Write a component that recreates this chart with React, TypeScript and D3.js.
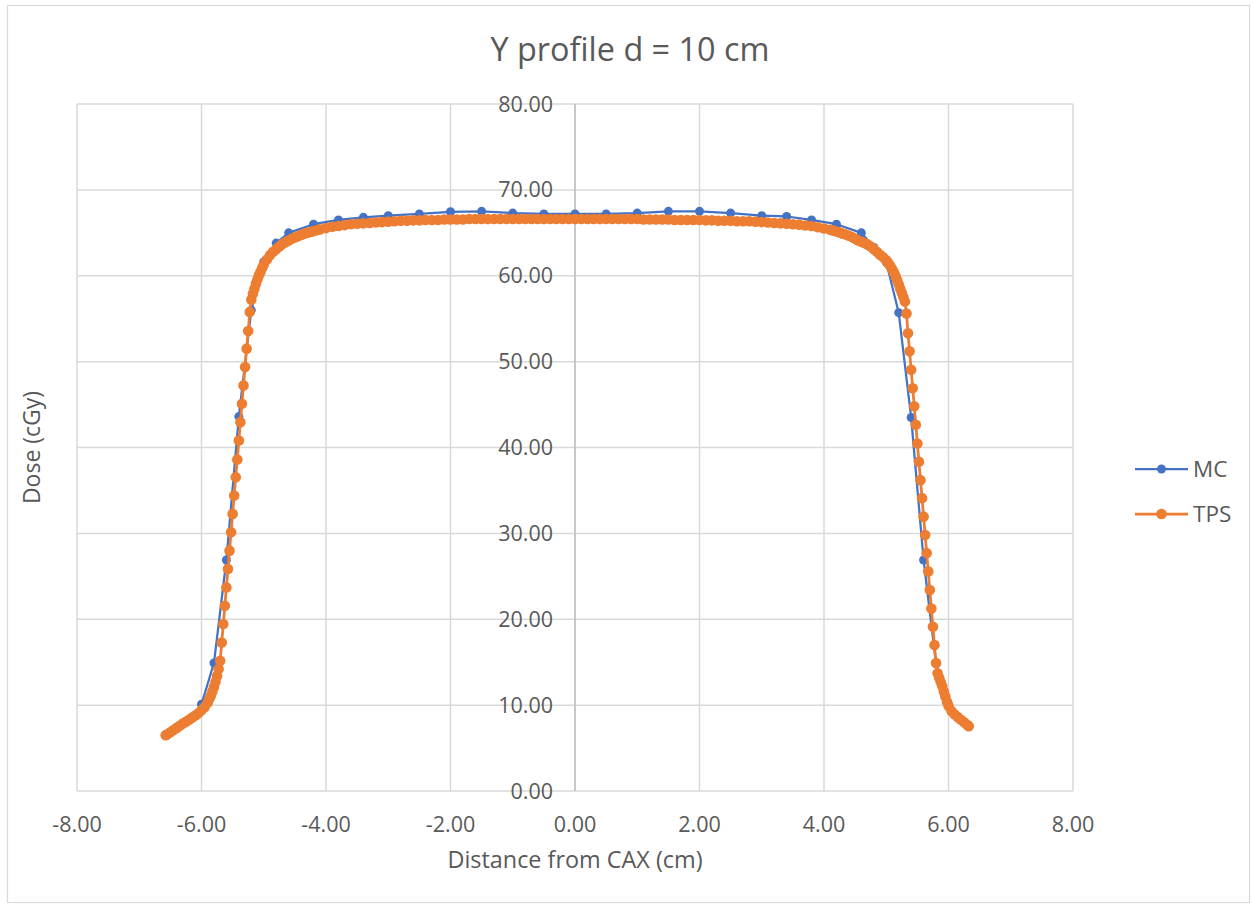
import React from 'react';
import * as d3 from 'd3';

// MC (Monte Carlo) profile points
const mcX = [
  -6.0, -5.8, -5.6, -5.4, -5.2, -5.0, -4.8, -4.6, -4.2, -3.8, -3.4, -3.0,
  -2.5, -2.0, -1.5, -1.0, -0.5, 0, 0.5, 1.0, 1.5, 2.0, 2.5, 3.0, 3.4, 3.8,
  4.2, 4.6, 4.8, 5.0, 5.2, 5.4, 5.6, 5.8, 6.0,
];
const mcDose = [
  10.1, 14.9, 26.9, 43.6, 56.0, 61.6, 63.8, 65.0, 66.0, 66.5, 66.8, 67.0,
  67.2, 67.45, 67.5, 67.3, 67.2, 67.2, 67.2, 67.3, 67.5, 67.5, 67.3, 67.0,
  66.9, 66.5, 66.0, 65.0, 63.3, 61.6, 55.7, 43.5, 26.9, 14.8, 10.05,
];

// TPS profile, by region: [x (cm), dose (cGy)]
const tpsLeftTail = [
  [-6.575, 6.5], [-6.55, 6.6], [-6.5, 6.85], [-6.45, 7.1], [-6.4, 7.35],
  [-6.35, 7.6], [-6.3, 7.85], [-6.25, 8.05], [-6.2, 8.3], [-6.15, 8.55],
  [-6.1, 8.8], [-6.05, 9.05], [-6.0, 9.4], [-5.95, 9.75], [-5.9, 10.3],
  [-5.875, 10.7], [-5.85, 11.1], [-5.825, 11.6], [-5.8, 12.1],
  [-5.775, 12.7], [-5.75, 13.4], [-5.725, 14.2],
];
const tpsLeftPenumbra = [
  [-5.7, 15.16], [-5.675, 17.29], [-5.65, 19.44], [-5.625, 21.57],
  [-5.6, 23.71], [-5.575, 25.85], [-5.55, 27.99], [-5.525, 30.12],
  [-5.5, 32.27], [-5.475, 34.4], [-5.45, 36.54], [-5.425, 38.6],
  [-5.4, 40.82], [-5.375, 42.95], [-5.35, 45.1], [-5.325, 47.23],
  [-5.3, 49.36], [-5.275, 51.51], [-5.25, 53.56], [-5.225, 55.78],
];
const tpsLeftShoulder = [
  [-5.2, 57.2], [-5.175, 57.9], [-5.15, 58.5], [-5.125, 59.1], [-5.1, 59.6],
  [-5.075, 60.1], [-5.05, 60.5], [-5.025, 60.9], [-5.0, 61.3], [-4.95, 61.9],
  [-4.9, 62.4], [-4.85, 62.8], [-4.8, 63.1], [-4.75, 63.4], [-4.7, 63.7],
  [-4.65, 63.9],
];
const tpsPlateau = [
  [-4.6, 64.1], [-4.55, 64.3], [-4.5, 64.45], [-4.45, 64.6], [-4.4, 64.75],
  [-4.35, 64.9], [-4.3, 65.0], [-4.25, 65.1], [-4.2, 65.2], [-4.15, 65.3],
  [-4.1, 65.4], [-4.0, 65.55], [-3.9, 65.7], [-3.8, 65.8], [-3.7, 65.9],
  [-3.6, 66.0], [-3.5, 66.05], [-3.4, 66.1], [-3.3, 66.15], [-3.2, 66.2],
  [-3.1, 66.25], [-3.0, 66.3], [-2.9, 66.35], [-2.8, 66.4], [-2.7, 66.4],
  [-2.6, 66.45], [-2.5, 66.45], [-2.4, 66.5], [-2.3, 66.5], [-2.2, 66.5],
  [-2.1, 66.55], [-2.0, 66.55], [-1.9, 66.55], [-1.8, 66.55], [-1.7, 66.6],
  [-1.6, 66.6], [-1.5, 66.6], [-1.4, 66.6], [-1.3, 66.6], [-1.2, 66.6],
  [-1.1, 66.6], [-1.0, 66.6], [-0.9, 66.6], [-0.8, 66.6], [-0.7, 66.6],
  [-0.6, 66.6], [-0.5, 66.6], [-0.4, 66.6], [-0.3, 66.6], [-0.2, 66.6],
  [-0.1, 66.6], [0, 66.6], [0.1, 66.6], [0.2, 66.6], [0.3, 66.6],
  [0.4, 66.6], [0.5, 66.6], [0.6, 66.6], [0.7, 66.6], [0.8, 66.6],
  [0.9, 66.6], [1.0, 66.6], [1.1, 66.55], [1.2, 66.55], [1.3, 66.55],
  [1.4, 66.55], [1.5, 66.55], [1.6, 66.5], [1.7, 66.5], [1.8, 66.5],
  [1.9, 66.5], [2.0, 66.5], [2.1, 66.45], [2.2, 66.45], [2.3, 66.4],
  [2.4, 66.4], [2.5, 66.4], [2.6, 66.35], [2.7, 66.35], [2.8, 66.35],
  [2.9, 66.3], [3.0, 66.25], [3.1, 66.2], [3.2, 66.15], [3.3, 66.1],
  [3.4, 66.05], [3.5, 66.0], [3.6, 65.95], [3.7, 65.85], [3.8, 65.8],
  [3.9, 65.65], [4.0, 65.5], [4.1, 65.35], [4.15, 65.25], [4.2, 65.15],
  [4.25, 65.05], [4.3, 64.9], [4.35, 64.8], [4.4, 64.65], [4.45, 64.5],
  [4.5, 64.3],
];
const tpsRightShoulder = [
  [4.55, 64.1], [4.6, 63.95], [4.65, 63.8], [4.7, 63.65], [4.75, 63.4],
  [4.8, 63.1], [4.85, 62.8], [4.9, 62.45], [4.95, 62.15], [5.0, 61.8],
  [5.025, 61.55], [5.05, 61.3], [5.075, 61.0], [5.1, 60.7], [5.125, 60.35],
  [5.15, 59.95], [5.175, 59.5], [5.2, 59.0], [5.225, 58.5], [5.25, 58.0],
  [5.275, 57.5], [5.3, 57.0],
];
const tpsRightPenumbra = [
  [5.325, 55.6], [5.35, 53.3], [5.375, 51.2], [5.4, 49.06], [5.425, 46.9],
  [5.45, 44.8], [5.475, 42.65], [5.5, 40.47], [5.525, 38.33], [5.55, 36.2],
  [5.575, 34.1], [5.6, 31.95], [5.625, 29.8], [5.65, 27.7], [5.675, 25.57],
  [5.7, 23.4], [5.725, 21.26], [5.75, 19.13], [5.775, 17.0], [5.8, 14.9],
];
const tpsRightTail = [
  [5.825, 13.7], [5.85, 13.2], [5.875, 12.7], [5.9, 12.2], [5.925, 11.6],
  [5.95, 11.0], [5.975, 10.4], [6.0, 9.9], [6.05, 9.3], [6.1, 8.9],
  [6.15, 8.6], [6.2, 8.3], [6.25, 8.0], [6.3, 7.7], [6.325, 7.55],
];

const xTicks = [-8, -6, -4, -2, 0, 2, 4, 6, 8];
const yTicks = [0, 10, 20, 30, 40, 50, 60, 70, 80];

const series = [
  { name: 'MC', color: '#4472C4', width: 2.25, r: 4.5 },
  { name: 'TPS', color: '#ED7D31', width: 2.75, r: 5.3 },
];

const W = 1253;
const H = 907;
const margin = { left: 77, right: 180, top: 104, bottom: 116 };
const FONT = '"Open Sans", Lato, sans-serif';
const TEXT = '#595959';
const GRID = '#D9D9D9';

export default function App() {
  const x = d3.scaleLinear([-8, 8], [margin.left, W - margin.right]);
  const y = d3.scaleLinear([0, 80], [H - margin.bottom, margin.top]);

  const mcPts = mcX.map((v, i) => [v, mcDose[i]]);
  const tpsPts = [
    ...tpsLeftTail,
    ...tpsLeftPenumbra,
    ...tpsLeftShoulder,
    ...tpsPlateau,
    ...tpsRightShoulder,
    ...tpsRightPenumbra,
    ...tpsRightTail,
  ];
  const data = [mcPts, tpsPts];

  const line = d3.line((d) => x(d[0]), (d) => y(d[1]));

  return (
    <svg
      width={W}
      height={H}
      style={{ position: 'absolute', left: 0, top: 0, background: '#fff' }}
      fontFamily={FONT}
    >
      <rect x={7.5} y={5.5} width={1242} height={897} fill="#fff" stroke={GRID} strokeWidth={1.2} />

      <text x={630} y={61} textAnchor="middle" fontSize={32.4} fill={TEXT}>
        Y profile d = 10 cm
      </text>

      {/* gridlines */}
      <g stroke={GRID} strokeWidth={1.5}>
        {yTicks.map((t) => (
          <line key={'h' + t} x1={x(-8)} x2={x(8)} y1={y(t)} y2={y(t)} />
        ))}
        {xTicks.map((t) => (
          <line key={'v' + t} x1={x(t)} x2={x(t)} y1={y(0)} y2={y(80)} />
        ))}
      </g>
      <line x1={x(0)} x2={x(0)} y1={y(0)} y2={y(80)} stroke="#BFBFBF" strokeWidth={1.5} />

      {/* tick labels */}
      <g fontSize={21.5} fill={TEXT}>
        {xTicks.map((t) => (
          <text key={'xl' + t} x={x(t)} y={y(0) + 41} textAnchor="middle">
            {t.toFixed(2)}
          </text>
        ))}
        {yTicks.map((t) => (
          <text key={'yl' + t} x={x(0) - 22} y={y(t) + 7.5} textAnchor="end">
            {t.toFixed(2)}
          </text>
        ))}
      </g>

      {/* axis titles */}
      <text x={575} y={868} textAnchor="middle" fontSize={23.4} fill={TEXT}>
        Distance from CAX (cm)
      </text>
      <text
        transform={`translate(40, ${y(40)}) rotate(-90)`}
        textAnchor="middle"
        fontSize={23}
        fill={TEXT}
      >
        Dose (cGy)
      </text>

      {/* series */}
      {series.map((s, si) => (
        <g key={s.name}>
          <path d={line(data[si])} fill="none" stroke={s.color} strokeWidth={s.width} strokeLinejoin="round" />
          <g fill={s.color}>
            {data[si].map((d, i) => (
              <circle key={i} cx={x(d[0])} cy={y(d[1])} r={s.r} />
            ))}
          </g>
        </g>
      ))}

      {/* legend */}
      {series.map((s, i) => {
        const ly = 469 + i * 45;
        return (
          <g key={'lg' + s.name}>
            <line x1={1135} x2={1188} y1={ly} y2={ly} stroke={s.color} strokeWidth={s.width} />
            <circle cx={1161.5} cy={ly} r={s.r} fill={s.color} />
            <text x={1193} y={ly + 8} fontSize={22.5} fill={TEXT}>
              {s.name}
            </text>
          </g>
        );
      })}
    </svg>
  );
}
